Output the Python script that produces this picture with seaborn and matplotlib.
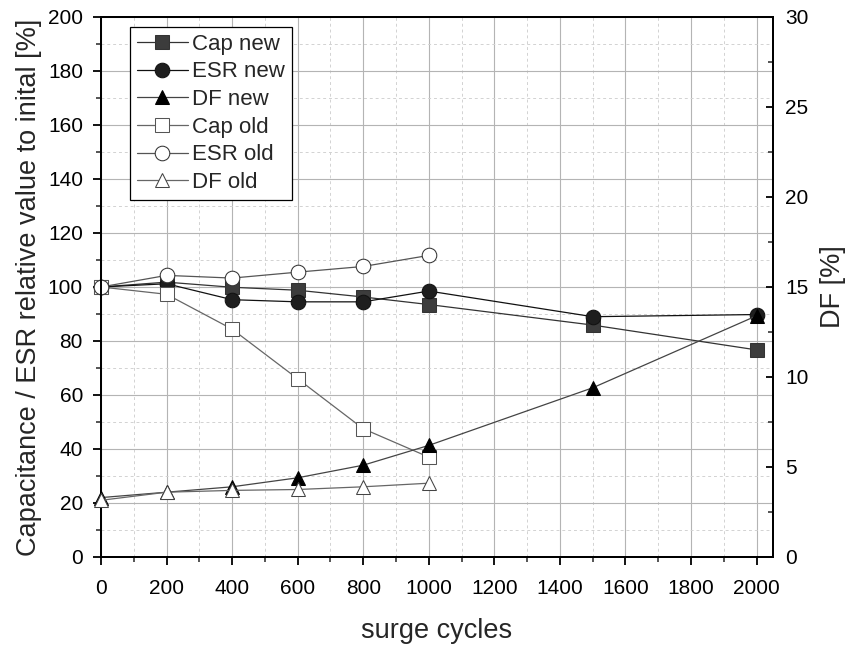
import numpy as np
import pandas as pd
import seaborn as sns
import matplotlib.pyplot as plt
from matplotlib.ticker import MultipleLocator

# data
cycles_new = [0, 200, 400, 600, 800, 1000, 1500, 2000]
cycles_old = [0, 200, 400, 600, 800, 1000]

cap_new = [100, 101.8, 99.9, 98.8, 96.3, 93.5, 85.9, 76.7]
esr_new = [100, 101.2, 95.3, 94.5, 94.5, 98.5, 89.0, 89.8]
df_new = [3.3, 3.6, 3.9, 4.4, 5.1, 6.2, 9.4, 13.4]

cap_old = [100, 97.3, 84.4, 66.0, 47.5, 37.0]
esr_old = [100, 104.3, 103.3, 105.5, 107.6, 111.7]
df_old = [3.15, 3.6, 3.7, 3.75, 3.9, 4.1]

sns.set_theme(style="ticks")
plt.rcParams['font.family'] = ['Liberation Sans', 'DejaVu Sans']

fig = plt.figure(figsize=(8.51, 6.51), dpi=100)
ax = fig.add_axes([0.1187, 0.1444, 0.7896, 0.8295])
ax2 = ax.twinx()

# grid
ax.xaxis.set_major_locator(MultipleLocator(200))
ax.xaxis.set_minor_locator(MultipleLocator(100))
ax.yaxis.set_major_locator(MultipleLocator(20))
ax.yaxis.set_minor_locator(MultipleLocator(10))
ax.grid(which='major', color='#b4b4b4', lw=0.8, ls='-')
ax.grid(which='minor', color='#d2d2d2', lw=0.7, ls=(0, (3, 3)))
ax.set_axisbelow(True)

common = dict(lw=0.9, markersize=10.5, clip_on=False, zorder=3)

# left axis series
sns.lineplot(x=cycles_new, y=cap_new, ax=ax, color='#333333', marker='s',
             markeredgecolor='#333333', markerfacecolor='#3c3c3c', label='Cap new', **common)
sns.lineplot(x=cycles_new, y=esr_new, ax=ax, color='#111111', marker='o',
             markeredgecolor='#111111', markerfacecolor='#1e1e1e', label='ESR new', **common)
sns.lineplot(x=cycles_old, y=cap_old, ax=ax, color='#666666', marker='s',
             markeredgecolor='#555555', markerfacecolor='white', label='Cap old', **common)
sns.lineplot(x=cycles_old, y=esr_old, ax=ax, color='#555555', marker='o',
             markeredgecolor='#333333', markerfacecolor='white', label='ESR old', **common)

# right axis series
sns.lineplot(x=cycles_new, y=df_new, ax=ax2, color='#444444', marker='^',
             markeredgecolor='black', markerfacecolor='black', label='DF new', **common)
sns.lineplot(x=cycles_old, y=df_old, ax=ax2, color='#666666', marker='^',
             markeredgecolor='#444444', markerfacecolor='white', label='DF old', **common)

ax.set_xlim(0, 2050)
ax.set_ylim(0, 200)
ax2.set_ylim(0, 30)
ax2.yaxis.set_major_locator(MultipleLocator(5))
ax2.yaxis.set_minor_locator(MultipleLocator(2.5))

for a in (ax, ax2):
    for s in a.spines.values():
        s.set_linewidth(1.4)
        s.set_color('black')
ax.tick_params(which='major', direction='out', length=6, width=1.3, labelsize=15, colors='black')
ax.tick_params(which='minor', direction='out', length=3.5, width=1.1)
ax.tick_params(axis='x', which='both', top=False)
ax.tick_params(axis='x', which='major', pad=10)
ax.tick_params(axis='y', which='major', pad=7)
ax2.tick_params(which='major', direction='in', length=5, width=1.3, labelsize=15,
                colors='black', pad=9)
ax2.tick_params(which='minor', direction='in', length=3.5, width=1.1)

ax.set_xlabel('surge cycles', fontsize=19.5, labelpad=14)
ax.set_ylabel('Capacitance / ESR relative value to inital [%]', fontsize=19.5, labelpad=4)
ax2.set_ylabel('DF [%]', fontsize=19.5, labelpad=8)

# combined legend
h1, l1 = ax.get_legend_handles_labels()
h2, l2 = ax2.get_legend_handles_labels()
hmap = dict(zip(l1 + l2, h1 + h2))
order = ['Cap new', 'ESR new', 'DF new', 'Cap old', 'ESR old', 'DF old']
if ax.get_legend():
    ax.get_legend().remove()
if ax2.get_legend():
    ax2.get_legend().remove()
leg = ax2.legend([hmap[k] for k in order], order, loc='upper left',
                 bbox_to_anchor=(0.043, 0.9815), fontsize=16, frameon=True,
                 fancybox=False, edgecolor='black', framealpha=1,
                 handlelength=2.3, handletextpad=0.2, labelspacing=0.3,
                 borderpad=0.3, borderaxespad=0)
leg.get_frame().set_linewidth(0.9)

fig.savefig('out.png', dpi=100)
